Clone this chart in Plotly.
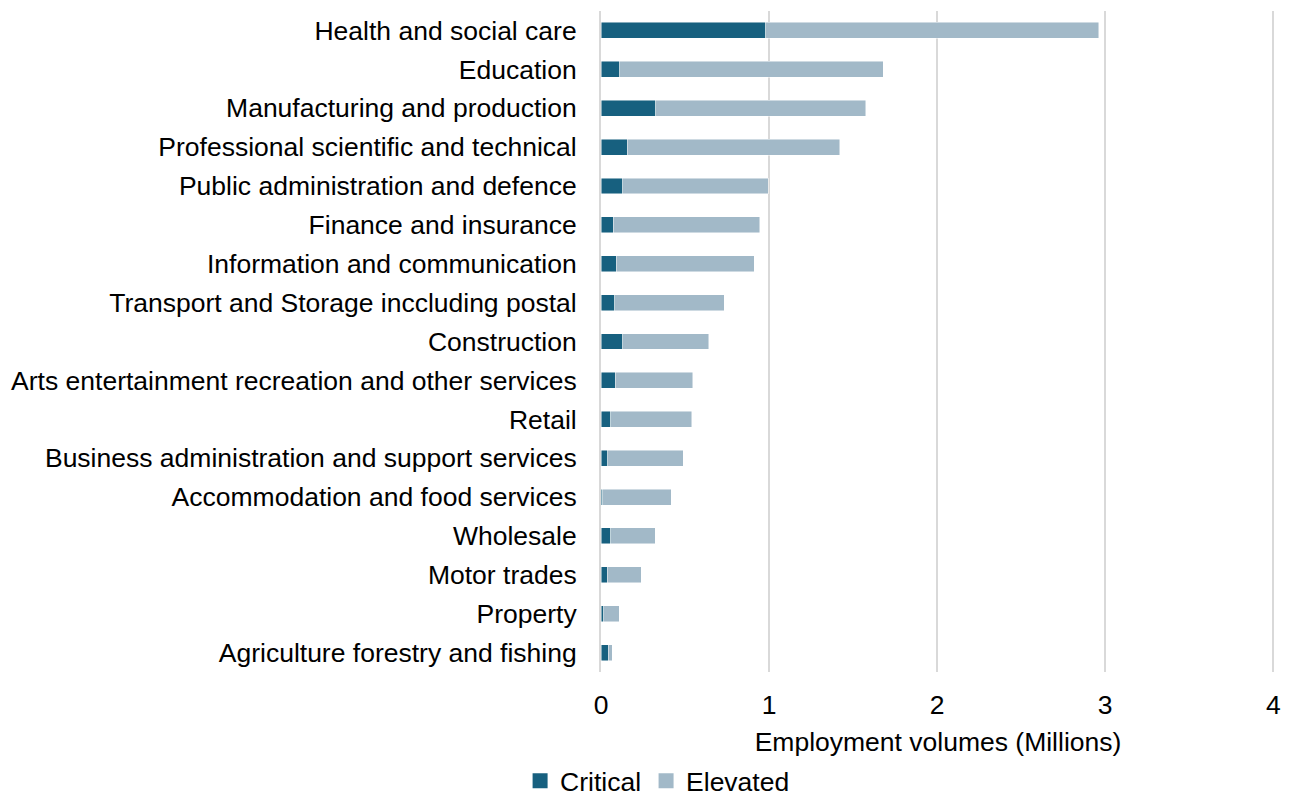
import plotly.graph_objects as go

categories = [
    "Health and social care",
    "Education",
    "Manufacturing and production",
    "Professional scientific and technical",
    "Public administration and defence",
    "Finance and insurance",
    "Information and communication",
    "Transport and Storage inccluding postal",
    "Construction",
    "Arts entertainment recreation and other services",
    "Retail",
    "Business administration and support services",
    "Accommodation and food services",
    "Wholesale",
    "Motor trades",
    "Property",
    "Agriculture forestry and fishing",
]
critical = [0.98, 0.113, 0.327, 0.155, 0.129, 0.073, 0.091, 0.083, 0.129, 0.086,
            0.059, 0.040, 0.010, 0.058, 0.036, 0.016, 0.042]
total = [2.96, 1.68, 1.575, 1.42, 0.996, 0.945, 0.911, 0.733, 0.642, 0.547,
         0.541, 0.489, 0.418, 0.323, 0.240, 0.109, 0.067]
elevated = [round(t - c, 3) for t, c in zip(total, critical)]
x_ticks = [0, 1, 2, 3, 4]
series_names = ["Critical", "Elevated"]
series_colors = ["#17607f", "#a2b9c8"]

FONT = "Liberation Sans, Arial, sans-serif"
FS = 26.5

fig = go.Figure()
for name, vals, col in zip(series_names, [critical, elevated], series_colors):
    fig.add_trace(go.Bar(
        y=categories, x=vals, name=name, orientation="h", showlegend=False,
        marker=dict(color=col, line=dict(width=0.8, color="rgba(255,255,255,0.6)")),
    ))
# legend entries with larger square swatches
for name, col in zip(series_names, series_colors):
    fig.add_trace(go.Scatter(
        x=[None], y=[None], mode="markers", name=name,
        marker=dict(symbol="square", size=15, color=col),
    ))

# page has an 8px body margin: figure is drawn at (8, 8)
fig.update_layout(
    barmode="stack",
    bargap=0.59,
    width=1282, height=788,
    margin=dict(l=593, r=15.3, t=2.5, b=123.5),
    paper_bgcolor="white", plot_bgcolor="white",
    font=dict(family=FONT, size=FS, color="#000000"),
    showlegend=True,
    legend=dict(
        orientation="h", xref="container", yref="container",
        x=0.5067, xanchor="center", y=0.019, yanchor="middle",
        font=dict(size=FS), traceorder="normal",
        itemwidth=30, tracegroupgap=0,
    ),
    xaxis=dict(
        range=[0, 4.01], tickvals=x_ticks, ticktext=[str(v) for v in x_ticks],
        showgrid=True, gridcolor="#d9d9d9", gridwidth=2,
        zeroline=False, showline=False,
        ticks="outside", ticklen=9, tickcolor="rgba(0,0,0,0)",
        tickfont=dict(size=FS),
        title=dict(text="Employment volumes (Millions)", font=dict(size=FS), standoff=15),
    ),
    yaxis=dict(
        autorange="reversed", showgrid=False, zeroline=False,
        showline=True, linecolor="#d9d9d9", linewidth=2,
        ticks="outside", ticklen=17, tickcolor="rgba(0,0,0,0)",
        tickfont=dict(size=FS),
    ),
)

fig.write_html("out.html")
